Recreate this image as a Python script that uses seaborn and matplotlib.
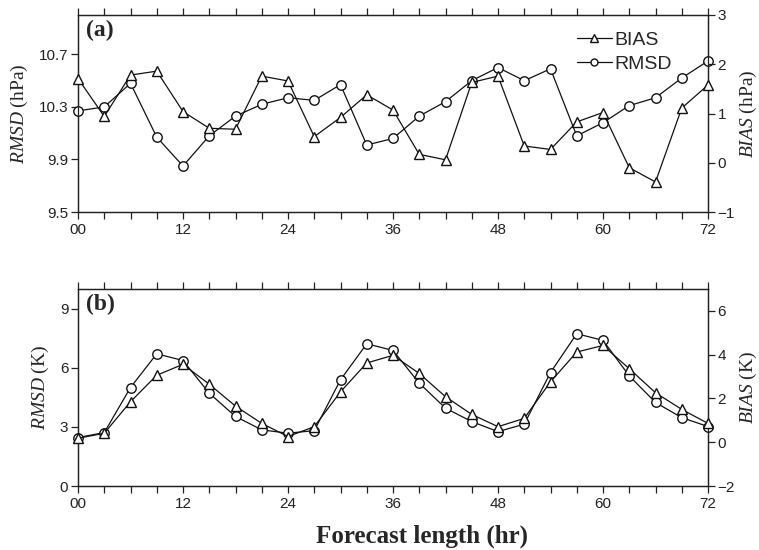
import numpy as np
import pandas as pd
import matplotlib
matplotlib.use("Agg")
import matplotlib.pyplot as plt
from matplotlib.lines import Line2D
import seaborn as sns

hours = list(range(0, 73, 3))

# Panel (a): pressure
rmsd_a = [10.27, 10.30, 10.48, 10.07, 9.85, 10.08, 10.23, 10.32, 10.37, 10.35, 10.47, 10.01,
          10.06, 10.23, 10.34, 10.50, 10.60, 10.50, 10.59, 10.08, 10.18, 10.31, 10.37, 10.52, 10.65]
bias_a = [1.71, 0.94, 1.78, 1.86, 1.04, 0.70, 0.68, 1.76, 1.66, 0.53, 0.92, 1.38,
          1.07, 0.17, 0.06, 1.63, 1.76, 0.34, 0.27, 0.83, 1.02, -0.10, -0.39, 1.11, 1.58]

# Panel (b): temperature
rmsd_b = [2.46, 2.71, 5.00, 6.71, 6.37, 4.71, 3.53, 2.85, 2.68, 2.81, 5.39, 7.22,
          6.88, 5.22, 3.95, 3.27, 2.76, 3.14, 5.76, 7.73, 7.39, 5.59, 4.24, 3.47, 3.02]
bias_b = [0.18, 0.41, 1.85, 3.06, 3.56, 2.65, 1.65, 0.86, 0.26, 0.71, 2.30, 3.62,
          3.97, 3.14, 2.08, 1.27, 0.71, 1.09, 2.76, 4.12, 4.42, 3.36, 2.26, 1.50, 0.86]

xtick_vals = [0, 12, 24, 36, 48, 60, 72]
xtick_labels = ["00", "12", "24", "36", "48", "60", "72"]

sns.set_style("ticks")
plt.rcParams["font.family"] = ["Liberation Sans", "DejaVu Sans"]
plt.rcParams["mathtext.fontset"] = "custom"
plt.rcParams["mathtext.it"] = "Liberation Serif:italic"
plt.rcParams["mathtext.rm"] = "Liberation Serif"

W, H = 759, 550
fig = plt.figure(figsize=(W / 100, H / 100), dpi=100)

def make_ax(left, top, right, bottom):
    return fig.add_axes([left / W, 1 - bottom / H, (right - left) / W, (bottom - top) / H])

ax_a = make_ax(78, 15, 708, 212)
ax_b = make_ax(78, 289, 708, 486)

serif = "Liberation Serif"
lw = 0.9
ms_c = 6.8
ms_t = 7.2
ink = "#111111"

def draw_panel(ax, rmsd, bias, ylim_l, yticks_l, ylim_r, yticks_r, unit, tag, legend=False):
    df = pd.DataFrame({"hour": hours, "rmsd": rmsd, "bias": bias})
    axr = ax.twinx()
    sns.lineplot(data=df, x="hour", y="rmsd", ax=ax, color=ink, lw=lw, marker="o",
                 markersize=ms_c, markerfacecolor="white", markeredgecolor=ink,
                 markeredgewidth=1.0, zorder=3)
    sns.lineplot(data=df, x="hour", y="bias", ax=axr, color=ink, lw=lw, marker="^",
                 markersize=ms_t, markerfacecolor="white", markeredgecolor=ink,
                 markeredgewidth=1.0, zorder=3)
    for a in (ax, axr):
        for ln in a.lines:
            ln.set_clip_on(False)
    ax.set_xlim(0, 72)
    ax.set_ylim(*ylim_l)
    ax.set_yticks(yticks_l)
    axr.set_ylim(*ylim_r)
    axr.set_yticks(yticks_r)
    ax.set_xticks(hours)
    ax.set_xticklabels([xtick_labels[xtick_vals.index(h)] if h in xtick_vals else "" for h in hours])
    for a in (ax, axr):
        for s in a.spines.values():
            s.set_visible(True)
            s.set_linewidth(0.9)
            s.set_color("#222222")
    ax.tick_params(axis="x", which="both", direction="out", top=True, bottom=True,
                   length=5, width=0.9, labelsize=11, pad=3, colors="#222222")
    ax.tick_params(axis="y", direction="out", length=5, width=0.9, labelsize=11, pad=2,
                   colors="#222222")
    axr.tick_params(axis="y", direction="out", length=5, width=0.9, labelsize=11, pad=2,
                    colors="#222222")
    ax.set_xlabel("")
    ax.set_ylabel(r"$\mathit{RMSD}$" + f" ({unit})", fontfamily=serif, fontsize=14, labelpad=6)
    axr.set_ylabel(r"$\mathit{BIAS}$" + f" ({unit})", fontfamily=serif, fontsize=14, labelpad=2)
    ax.text(0.012, 0.975, tag, transform=ax.transAxes, ha="left", va="top",
            fontfamily=serif, fontweight="bold", fontsize=17)
    if legend:
        handles = [Line2D([], [], color=ink, lw=lw, marker="^", markersize=5.5,
                          markerfacecolor="white", markeredgecolor=ink),
                   Line2D([], [], color=ink, lw=lw, marker="o", markersize=5,
                          markerfacecolor="white", markeredgecolor=ink)]
        ax.legend(handles, ["BIAS", "RMSD"], loc="upper left", bbox_to_anchor=(0.77, 0.985),
                  frameon=False, fontsize=14, handlelength=1.8, handletextpad=0.15,
                  labelspacing=0.3, borderpad=0.2)
    return axr

draw_panel(ax_a, rmsd_a, bias_a, (9.5, 11.0), [9.5, 9.9, 10.3, 10.7], (-1, 3),
           [-1, 0, 1, 2, 3], "hPa", "(a)", legend=True)
draw_panel(ax_b, rmsd_b, bias_b, (0, 10), [0, 3, 6, 9], (-2, 7),
           [-2, 0, 2, 4, 6], "K", "(b)")

fig.text(422 / W, 1 - 536 / H, "Forecast length (hr)", ha="center", va="center",
         fontfamily=serif, fontweight="bold", fontsize=18)

fig.savefig("out.png", dpi=100)
